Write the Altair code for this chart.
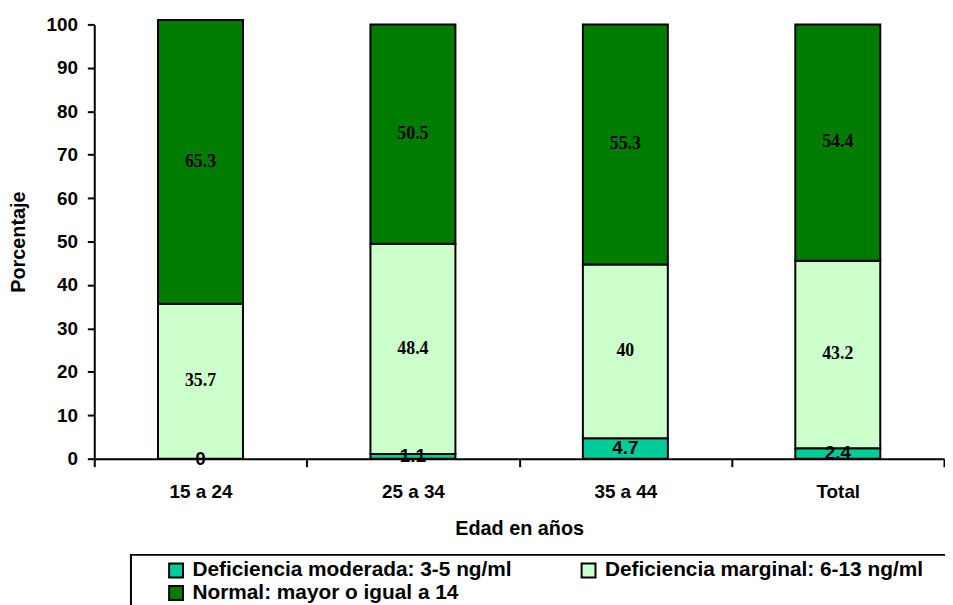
import altair as alt
import pandas as pd

categories = ["15 a 24", "25 a 34", "35 a 44", "Total"]
series = [
    "Deficiencia moderada: 3-5 ng/ml",
    "Deficiencia marginal: 6-13 ng/ml",
    "Normal: mayor o igual a 14",
]
moderada = [0, 1.1, 4.7, 2.4]
marginal = [35.7, 48.4, 40, 43.2]
normal = [65.3, 50.5, 55.3, 54.4]
colors = ["#00CC99", "#CCFFCC", "#007D00"]
y_ticks = [0, 10, 20, 30, 40, 50, 60, 70, 80, 90, 100]

rows = []
for i, c in enumerate(categories):
    for k, (s, vals) in enumerate(zip(series, [moderada, marginal, normal])):
        rows.append({"cat": c, "serie": s, "k": k, "value": vals[i]})
df = pd.DataFrame(rows)

SANS = "Liberation Sans, Arial, sans-serif"
SERIF = "Liberation Serif, Times New Roman, serif"

x_enc = alt.X(
    "cat:N",
    sort=categories,
    scale=alt.Scale(paddingInner=0, paddingOuter=0),
    axis=alt.Axis(
        title="Edad en años",
        labelAngle=0,
        tickBand="extent",
        tickSize=8,
        labelPadding=16,
        titlePadding=17,
    ),
)

base = alt.Chart(df)

bars = base.mark_bar(
    width=alt.RelativeBandSize(0.4), stroke="black", strokeWidth=2
).encode(
    x=x_enc,
    y=alt.Y(
        "value:Q",
        stack="zero",
        scale=alt.Scale(domain=[0, 100], nice=False),
        axis=alt.Axis(
            title="Porcentaje",
            values=y_ticks,
            tickSize=7,
            labelPadding=10,
            titlePadding=18,
        ),
    ),
    color=alt.Color(
        "serie:N",
        sort=series,
        scale=alt.Scale(domain=series, range=colors),
        legend=alt.Legend(
            title=" ",
            titleOrient="right",
            titlePadding=30,
            titleFontSize=4,
            orient="none",
            legendX=37,
            legendY=535,
            direction="horizontal",
            columns=2,
            columnPadding=36,
            rowPadding=0,
            padding=5,
            symbolOffset=30,
            symbolType="square",
            symbolSize=196,
            symbolStrokeColor="black",
            symbolStrokeWidth=2,
            labelOffset=6,
            labelLimit=0,
            labelFont=SANS,
            labelFontSize=21,
            labelFontWeight="bold",
            labelColor="black",
            strokeColor="black",
            fillColor="white",
        ),
    ),
    order=alt.Order("k:Q", sort="ascending"),
)

stacked = base.transform_stack(
    stack="value", groupby=["cat"], as_=["y0", "y1"], sort=[alt.SortField("k")]
).transform_calculate(mid="(datum.y0 + datum.y1) / 2")

labels_top = stacked.transform_filter("datum.k > 0").mark_text(
    font=SERIF, fontSize=18, fontWeight="bold", color="black", baseline="middle"
).encode(
    x=alt.X("cat:N", sort=categories),
    y=alt.Y("mid:Q"),
    text=alt.Text("value:Q", format=".1~f"),
)

labels_bottom = stacked.transform_filter("datum.k == 0").mark_text(
    font=SANS, fontSize=19, fontWeight="bold", color="black", baseline="middle"
).encode(
    x=alt.X("cat:N", sort=categories),
    y=alt.Y("mid:Q"),
    text=alt.Text("value:Q", format=".1~f"),
)

chart = (
    alt.layer(bars, labels_top, labels_bottom)
    .properties(
        width=857,
        height=438,
        autosize=alt.AutoSizeParams(type="none"),
        padding={"left": 87, "top": 14, "right": 1, "bottom": 145},
        background="white",
    )
    .configure_view(stroke=None)
    .configure_legend(strokeWidth=2)
    .configure_axis(
        grid=False,
        domainColor="black",
        domainWidth=2,
        tickColor="black",
        tickWidth=2,
        labelFont=SANS,
        labelFontSize=19,
        labelFontWeight="bold",
        labelColor="black",
        titleFont=SANS,
        titleFontSize=20,
        titleFontWeight="bold",
        titleColor="black",
    )
)

chart.save("out.html", embed_options={"renderer": "svg", "actions": False})
